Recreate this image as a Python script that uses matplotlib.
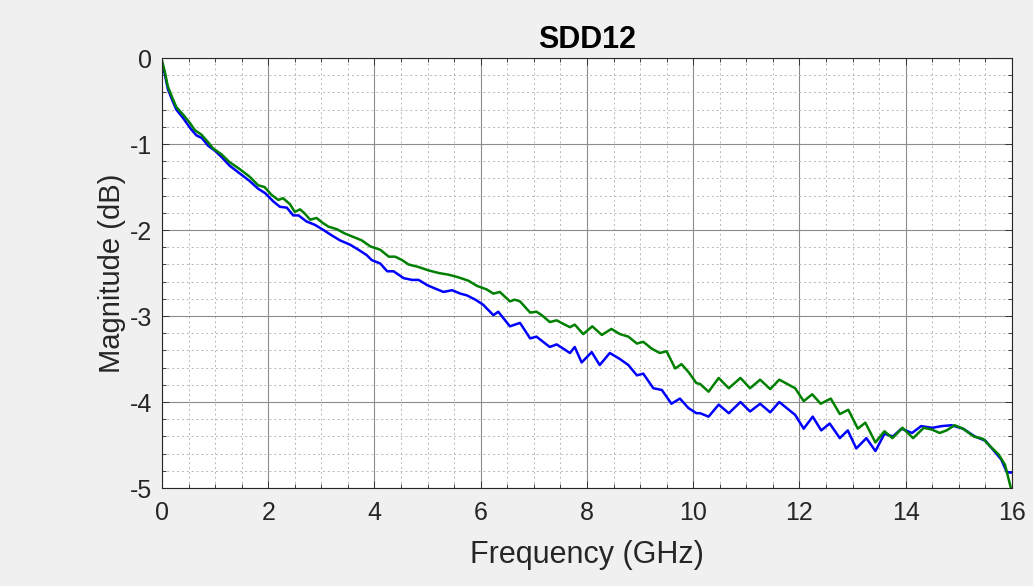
"""
SDD12 magnitude vs frequency, two traces
"""

import matplotlib.pyplot as plt
import numpy as np

plt.rcParams['font.family'] = ['Liberation Sans', 'DejaVu Sans']
plt.rcParams['axes.unicode_minus'] = False

# values (GHz, dB)
freq_green = [0.00, 0.05, 0.11, 0.20, 0.27, 0.40, 0.52, 0.62, 0.74, 0.87, 0.96, 1.12, 1.27, 1.46, 1.65,
              1.81, 1.93, 2.06, 2.19, 2.28, 2.41, 2.50, 2.60, 2.69, 2.79, 2.91, 3.01, 3.13, 3.29, 3.44,
              3.60, 3.76, 3.92, 4.11, 4.27, 4.39, 4.52, 4.64, 4.83, 5.02, 5.21, 5.40, 5.58, 5.77, 5.93,
              6.11, 6.24, 6.36, 6.55, 6.64, 6.74, 6.93, 7.05, 7.15, 7.30, 7.43, 7.52, 7.68, 7.77, 7.93,
              8.10, 8.28, 8.46, 8.62, 8.78, 8.94, 9.06, 9.22, 9.37, 9.50, 9.66, 9.78, 9.91, 10.06, 10.13,
              10.29, 10.48, 10.67, 10.89, 11.07, 11.26, 11.45, 11.62, 11.80, 11.92, 12.08, 12.24, 12.40,
              12.59, 12.76, 12.92, 13.10, 13.24, 13.43, 13.60, 13.75, 13.94, 14.14, 14.34, 14.49, 14.64,
              14.77, 14.92, 15.08, 15.28, 15.46, 15.60, 15.75, 15.87, 15.98]
mag_green = [-0.03, -0.15, -0.33, -0.47, -0.57, -0.66, -0.75, -0.84, -0.89, -0.98, -1.05, -1.12, -1.21,
             -1.29, -1.38, -1.48, -1.50, -1.59, -1.65, -1.63, -1.70, -1.79, -1.76, -1.81, -1.88, -1.86,
             -1.91, -1.96, -1.99, -2.04, -2.08, -2.12, -2.19, -2.23, -2.31, -2.31, -2.35, -2.40, -2.43,
             -2.47, -2.50, -2.52, -2.55, -2.59, -2.65, -2.69, -2.74, -2.72, -2.83, -2.81, -2.83, -2.96,
             -2.95, -2.99, -3.07, -3.05, -3.08, -3.13, -3.10, -3.21, -3.12, -3.22, -3.15, -3.21, -3.24,
             -3.32, -3.30, -3.38, -3.43, -3.41, -3.61, -3.56, -3.65, -3.78, -3.79, -3.88, -3.72, -3.84,
             -3.72, -3.84, -3.74, -3.85, -3.74, -3.80, -3.84, -3.99, -3.91, -4.02, -3.96, -4.14, -4.09,
             -4.31, -4.24, -4.47, -4.34, -4.42, -4.30, -4.42, -4.30, -4.32, -4.36, -4.33, -4.27, -4.31,
             -4.40, -4.43, -4.52, -4.61, -4.73, -5.00]

freq_blue = [0.00, 0.05, 0.11, 0.20, 0.27, 0.40, 0.55, 0.65, 0.75, 0.87, 1.00, 1.12, 1.27, 1.46, 1.65,
             1.81, 1.94, 2.10, 2.22, 2.35, 2.47, 2.57, 2.72, 2.88, 3.04, 3.19, 3.35, 3.54, 3.70, 3.85,
             3.95, 4.11, 4.24, 4.36, 4.55, 4.71, 4.83, 4.99, 5.14, 5.30, 5.46, 5.62, 5.74, 5.90, 6.05,
             6.11, 6.24, 6.33, 6.55, 6.74, 6.93, 7.05, 7.30, 7.43, 7.68, 7.77, 7.90, 8.09, 8.24, 8.43,
             8.62, 8.78, 8.94, 9.06, 9.25, 9.41, 9.59, 9.75, 9.91, 10.06, 10.13, 10.29, 10.48, 10.67,
             10.89, 11.07, 11.26, 11.45, 11.62, 11.80, 11.92, 12.08, 12.25, 12.41, 12.57, 12.76, 12.91,
             13.07, 13.26, 13.43, 13.60, 13.76, 13.92, 14.12, 14.29, 14.50, 14.68, 14.86, 15.08, 15.30,
             15.50, 15.68, 15.80, 15.90, 15.95, 16.00]
mag_blue = [-0.05, -0.18, -0.36, -0.50, -0.60, -0.70, -0.83, -0.90, -0.93, -1.02, -1.08, -1.15, -1.25,
            -1.34, -1.43, -1.52, -1.57, -1.67, -1.73, -1.74, -1.83, -1.83, -1.90, -1.94, -2.00, -2.06,
            -2.12, -2.17, -2.23, -2.29, -2.35, -2.39, -2.48, -2.48, -2.56, -2.58, -2.58, -2.64, -2.68,
            -2.72, -2.70, -2.74, -2.76, -2.81, -2.87, -2.91, -2.99, -2.95, -3.12, -3.08, -3.26, -3.24,
            -3.36, -3.33, -3.43, -3.36, -3.54, -3.42, -3.57, -3.43, -3.50, -3.57, -3.69, -3.67, -3.84,
            -3.86, -4.02, -3.96, -4.07, -4.13, -4.13, -4.17, -4.03, -4.13, -4.00, -4.11, -4.02, -4.12,
            -4.00, -4.09, -4.15, -4.31, -4.17, -4.33, -4.25, -4.42, -4.33, -4.54, -4.42, -4.57, -4.37,
            -4.40, -4.31, -4.36, -4.28, -4.30, -4.28, -4.27, -4.31, -4.40, -4.45, -4.58, -4.67, -4.81,
            -4.82, -4.82]

xticks = [0, 2, 4, 6, 8, 10, 12, 14, 16]
yticks = [0, -1, -2, -3, -4, -5]

fig = plt.figure(figsize=(10.33, 5.86), dpi=100, facecolor='#f0f0f0')
ax = fig.add_axes([0.1568, 0.1672, 0.8228, 0.7338])
ax.set_facecolor('white')

ax.plot(freq_blue, mag_blue, color='#0000ff', lw=1.8)
ax.plot(freq_green, mag_green, color='#008000', lw=1.8)

ax.set_xlim(0, 16)
ax.set_ylim(-5, 0)
ax.set_xticks(xticks)
ax.set_yticks(yticks)
ax.set_xticks(np.arange(0, 16.01, 0.5), minor=True)
ax.set_yticks(np.arange(-5, 0.01, 0.2), minor=True)

ax.grid(which='major', color='#8c8c8c', lw=0.8, ls='-')
ax.grid(which='minor', color='#b8b8b8', lw=0.7, ls=(0, (2, 3)))
ax.set_axisbelow(True)

ax.tick_params(which='both', direction='in', top=True, right=True, colors='#262626',
               labelsize=18, width=0.6)
ax.tick_params(which='major', length=5)
ax.tick_params(which='minor', length=3)
ax.tick_params(axis='x', pad=9)
ax.tick_params(axis='y', pad=7)
for s in ax.spines.values():
    s.set_color('#262626')
    s.set_linewidth(0.8)

ax.set_xlabel("Frequency (GHz)", fontsize=22, color='#262626', labelpad=11)
ax.set_ylabel("Magnitude (dB)", fontsize=21, color='#262626', labelpad=3)
ax.set_title("SDD12", fontsize=22, fontweight='bold', color='black', pad=7)

plt.savefig("out.png", dpi=100, facecolor=fig.get_facecolor())
